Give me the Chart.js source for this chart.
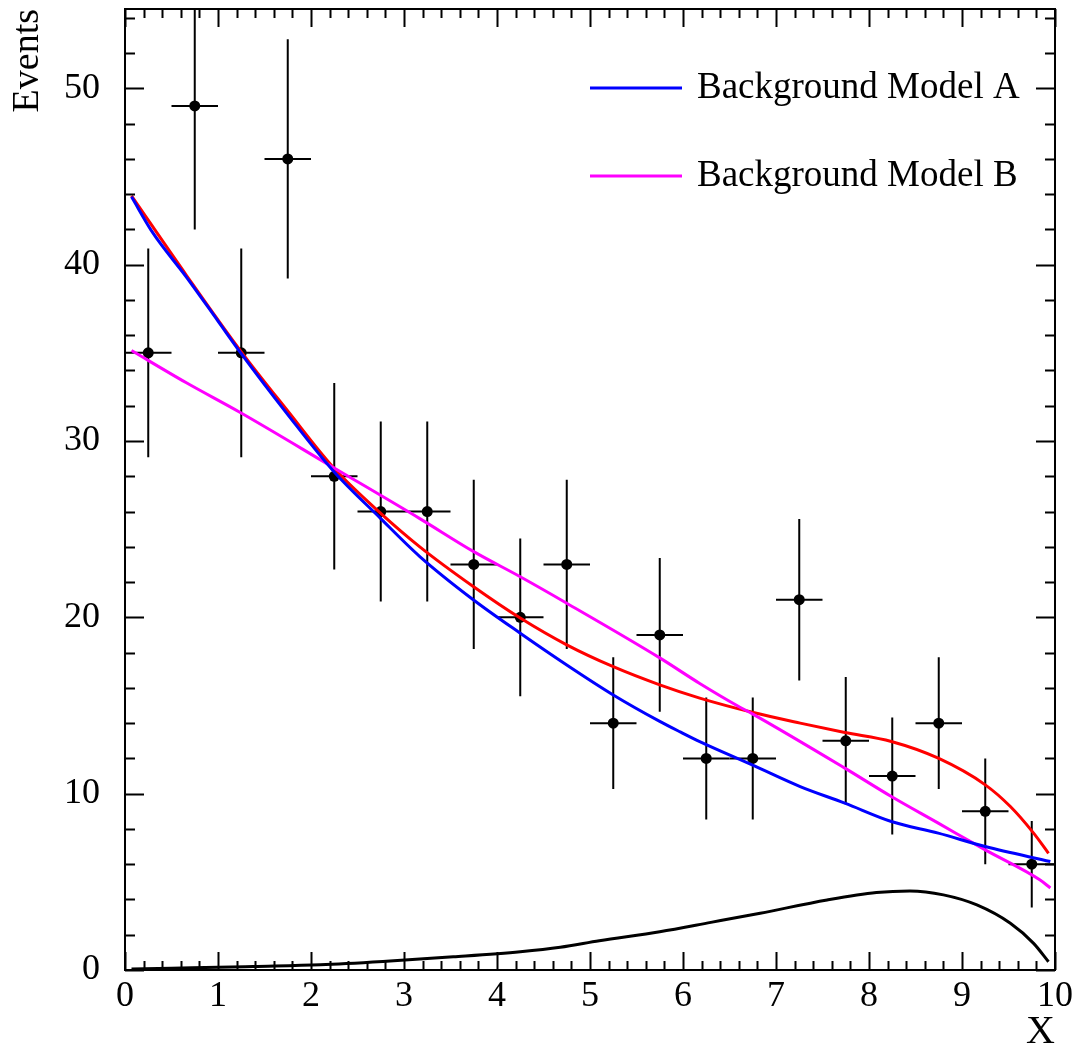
<!DOCTYPE html>
<html><head><meta charset="utf-8">
<script src="https://cdn.jsdelivr.net/npm/chart.js@4.4.0/dist/chart.umd.min.js"></script>
<style>html,body{margin:0;padding:0;background:#fff;}</style>
</head><body>
<canvas id="c" width="1075" height="1048"></canvas>
<script>
// ---------- data ----------
const binCenters = [0.25,0.75,1.25,1.75,2.25,2.75,3.25,3.75,4.25,4.75,5.25,5.75,6.25,6.75,7.25,7.75,8.25,8.75,9.25,9.75];
const counts     = [35,49,35,46,28,26,26,23,20,23,14,19,12,12,21,13,11,14,9,6];
const countErrors= [5.92,7.0,5.92,6.78,5.29,5.10,5.10,4.80,4.47,4.80,3.74,4.36,3.46,3.46,4.58,3.61,3.32,3.74,3.0,2.45];
const binHalfWidths = [0.25,0.25,0.25,0.25,0.25,0.25,0.25,0.25,0.25,0.25,0.25,0.25,0.25,0.25,0.25,0.25,0.25,0.25,0.25,0.25];

const modelAX = [0.07,0.30,0.66,1.0,1.244,1.75,2.24,2.75,3.17,3.745,4.25,4.75,5.25,5.75,5.97,6.18,6.756,7.26,7.74,8.24,8.745,9.25,9.95];
const modelAY = [43.85,41.8,39.3,36.8,35.0,31.5,28.3,25.6,23.45,21.0,19.1,17.3,15.6,14.1,13.5,12.95,11.6,10.4,9.46,8.42,7.76,7.0,6.15];

const modelBX = [0.07,0.66,1.244,2.24,3.17,3.745,4.25,4.75,5.75,6.18,6.58,6.756,7.74,8.24,8.745,9.25,9.84,9.95];
const modelBY = [35.13,33.3,31.6,28.5,25.6,23.74,22.3,20.8,17.7,16.25,15.0,14.5,11.45,9.84,8.33,6.81,5.1,4.65];

const totalX = [0.07,0.66,1.244,1.75,2.24,2.75,3.17,3.745,4.25,4.75,5.25,5.75,6.18,6.756,7.26,7.74,8.24,8.745,9.25,9.52,9.77,9.93];
const totalY = [43.9,39.4,35.1,31.7,28.5,25.9,24.0,21.75,19.96,18.44,17.2,16.17,15.42,14.6,14.0,13.47,12.96,12.01,10.5,9.27,7.76,6.62];

const signalX = [0.07,0.5,1.0,1.38,2.1,2.81,3.53,4.25,4.68,5.1,5.75,6.3,6.83,7.55,8.08,8.44,8.8,9.16,9.52,9.77,9.93];
const signalY = [0.05,0.1,0.15,0.2,0.3,0.5,0.75,1.04,1.29,1.66,2.17,2.7,3.22,3.97,4.39,4.48,4.26,3.69,2.65,1.51,0.47];

const xTickValues = [0,1,2,3,4,5,6,7,8,9,10];
const yTickValues = [0,10,20,30,40,50];
const xTitle = 'X';
const yTitle = 'Events';
const legendLabels = ['Background Model A','Background Model B'];
const legendColors = ['#0000ff','#ff00ff'];

// ---------- helpers ----------
const pts = (xs, ys) => xs.map((x, i) => ({x: x, y: ys[i]}));
const FONT = "'Liberation Serif','Times New Roman',serif";

const errorBarPlugin = {
  id: 'errorBars',
  beforeDatasetsDraw(chart) {
    const {ctx, chartArea: a, scales: {x, y}} = chart;
    ctx.save();
    ctx.beginPath(); ctx.rect(a.left, a.top, a.right - a.left, a.bottom - a.top); ctx.clip();
    ctx.strokeStyle = '#000'; ctx.lineWidth = 2;
    binCenters.forEach((c, i) => {
      const px = x.getPixelForValue(c), py = y.getPixelForValue(counts[i]);
      ctx.beginPath();
      ctx.moveTo(px, y.getPixelForValue(counts[i] - countErrors[i]));
      ctx.lineTo(px, y.getPixelForValue(counts[i] + countErrors[i]));
      ctx.moveTo(x.getPixelForValue(c - binHalfWidths[i]), py);
      ctx.lineTo(x.getPixelForValue(c + binHalfWidths[i]), py);
      ctx.stroke();
    });
    ctx.restore();
  }
};

const framePlugin = {
  id: 'rootFrame',
  afterDraw(chart) {
    const {ctx, chartArea: a, scales: {x, y}} = chart;
    ctx.save();
    ctx.strokeStyle = '#000'; ctx.lineWidth = 2;
    ctx.strokeRect(a.left, a.top, a.right - a.left, a.bottom - a.top);
    ctx.beginPath();
    for (let k = 0; k <= 50; k++) {
      const v = k * 0.2;
      const px = Math.round(x.getPixelForValue(v)) + 0.5;
      const len = (k % 5 === 0) ? 18 : 9;
      ctx.moveTo(px, a.bottom); ctx.lineTo(px, a.bottom - len);
      ctx.moveTo(px, a.top); ctx.lineTo(px, a.top + len);
    }
    for (let k = 0; k <= 27; k++) {
      const v = k * 2;
      const py = Math.round(y.getPixelForValue(v)) + 0.5;
      const len = (k % 5 === 0) ? 19 : 10;
      ctx.moveTo(a.left, py); ctx.lineTo(a.left + len, py);
      ctx.moveTo(a.right, py); ctx.lineTo(a.right - len, py);
    }
    ctx.stroke();
    // legend
    const lx0 = a.left + 465, lx1 = a.left + 557, tx = a.left + 572;
    const ly = [a.top + 79, a.top + 167];
    ctx.font = '37px ' + FONT;
    ctx.textBaseline = 'middle'; ctx.textAlign = 'left'; ctx.fillStyle = '#000';
    legendLabels.forEach((lab, i) => {
      ctx.strokeStyle = legendColors[i]; ctx.lineWidth = 3;
      ctx.beginPath(); ctx.moveTo(lx0, ly[i]); ctx.lineTo(lx1, ly[i]); ctx.stroke();
      ctx.fillText(lab, tx, ly[i]);
    });
    ctx.restore();
  }
};

const lineDs = (label, data, color) => ({
  type: 'line', label, data, borderColor: color, backgroundColor: color,
  borderWidth: 3, pointRadius: 0, fill: false, cubicInterpolationMode: 'monotone', parsing: false
});

new Chart(document.getElementById('c'), {
  type: 'scatter',
  data: {
    datasets: [
      lineDs(legendLabels[0], pts(modelAX, modelAY), '#0000ff'),
      lineDs(legendLabels[1], pts(modelBX, modelBY), '#ff00ff'),
      lineDs('Model A + signal', pts(totalX, totalY), '#ff0000'),
      lineDs('Signal', pts(signalX, signalY), '#000000'),
      { type: 'scatter', label: 'Data', data: pts(binCenters, counts), pointRadius: 5.5,
        pointBackgroundColor: '#000', pointBorderColor: '#000', pointBorderWidth: 0 }
    ]
  },
  options: {
    responsive: false, animation: false, devicePixelRatio: 1,
    layout: { padding: { top: 9, right: 20, left: 0, bottom: 0 } },
    plugins: { legend: { display: false }, tooltip: { enabled: false } },
    scales: {
      x: {
        type: 'linear', min: 0, max: 10,
        afterBuildTicks: s => { s.ticks = xTickValues.map(v => ({value: v})); },
        afterFit: s => { s.height = 78; s.paddingLeft = 0; s.paddingRight = 0; },
        grid: { display: false, drawTicks: false }, border: { display: false },
        ticks: { color: '#000', font: { family: FONT, size: 36 }, padding: 5, maxRotation: 0, autoSkip: false },
        title: { display: true, text: xTitle, align: 'end', color: '#000', font: { family: FONT, size: 40, lineHeight: 0.8 }, padding: 0 }
      },
      y: {
        type: 'linear', min: 0, max: 54.5,
        afterBuildTicks: s => { s.ticks = yTickValues.map(v => ({value: v})); },
        afterFit: s => { s.width = 125; s.paddingTop = 0; s.paddingBottom = 0; },
        grid: { display: false, drawTicks: false }, border: { display: false },
        ticks: { color: '#000', font: { family: FONT, size: 36 }, padding: 25, autoSkip: false },
        title: { display: true, text: yTitle, align: 'end', color: '#000', font: { family: FONT, size: 38, lineHeight: 1 }, padding: { top: 9, bottom: 0 } }
      }
    }
  },
  plugins: [errorBarPlugin, framePlugin]
});
</script>
</body></html>
